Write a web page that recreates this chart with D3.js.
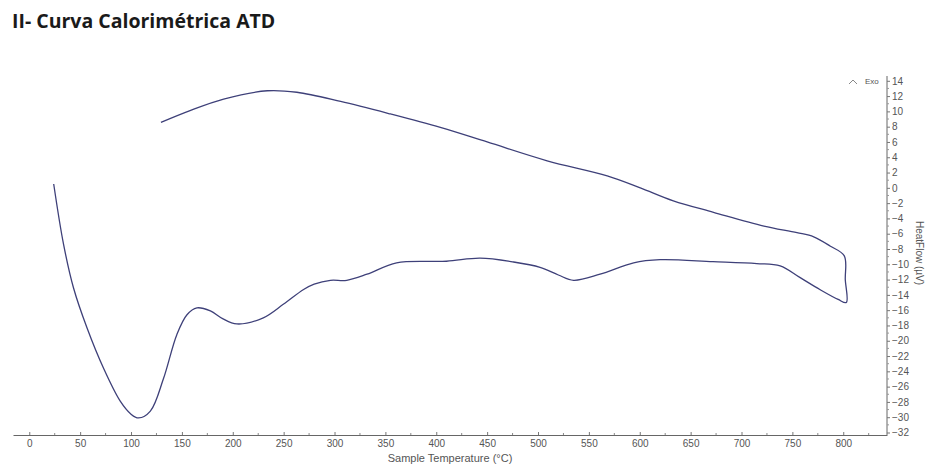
<!DOCTYPE html>
<html>
<head>
<meta charset="utf-8">
<script src="https://cdn.jsdelivr.net/npm/d3@7"></script>
<style>
  body { margin: 0; background: #fff; }
  svg { display: block; }
</style>
</head>
<body>
<svg width="932" height="465"></svg>
<script>
// temperature (°C) and heat flow (µV), in the order the loop was traced
var temps = [24, 33.7, 43.5, 56.7, 73, 89.4, 100, 107.4, 119, 132, 145, 155, 164.8, 178, 190, 204, 230, 250, 269.6, 280, 296, 312, 332, 361, 410, 443, 476, 502, 520, 535, 561, 594, 620, 672, 715, 738, 757.7, 777, 795, 803,
             802, 801,
             787, 771, 754.5, 722, 672.5, 633, 600.5, 568, 509, 450, 404, 355, 306, 263, 234, 191, 158, 129.4];
var heatFlow = [0.5, -7.4, -13.1, -18.3, -23.6, -27.9, -29.6, -30.1, -29.2, -24.9, -19.2, -16.6, -15.7, -16.1, -17.1, -17.8, -17.0, -15.2, -13.3, -12.6, -12.1, -12.1, -11.3, -9.8, -9.6, -9.2, -9.7, -10.4, -11.4, -12.1, -11.3, -9.8, -9.4, -9.65, -9.9, -10.2, -11.75, -13.3, -14.6, -15.0,
                -12, -8.9,
                -7.6, -6.4, -5.86, -5.0, -3.2, -1.7, 0.0, 1.57, 3.54, 6.0, 7.9, 9.66, 11.3, 12.5, 12.7, 11.6, 10.1, 8.56];
var xTickLabels = [0, 50, 100, 150, 200, 250, 300, 350, 400, 450, 500, 550, 600, 650, 700, 750, 800];
var yTickLabels = [14, 12, 10, 8, 6, 4, 2, 0, -2, -4, -6, -8, -10, -12, -14, -16, -18, -20, -22, -24, -26, -28, -30, -32];

var svg = d3.select("svg");

var x = d3.scaleLinear().domain([-16, 843]).range([13, 887]);
var y = d3.scaleLinear().domain([-32, 14]).range([432.5, 80.8]);

var grey = "#555";

// title
svg.append("text")
    .attr("x", 12).attr("y", 28)
    .style("font", "bold 19.5px 'Open Sans', sans-serif")
    .style("fill", "#1a1a1a")
    .text("II- Curva Calorimétrica ATD");

// x axis
var xAxis = d3.axisBottom(x)
    .tickValues(xTickLabels)
    .tickFormat(d3.format("d"))
    .tickSizeInner(-3)
    .tickSizeOuter(0)
    .tickPadding(5);

var gx = svg.append("g").attr("transform", "translate(0,435)").call(xAxis);
gx.select(".domain").attr("stroke", "#666");
gx.selectAll(".tick line").attr("stroke", "#777");
gx.selectAll("text").style("font", "10px 'Liberation Sans', Arial, sans-serif").style("fill", grey);

// minor x ticks every 25
svg.append("g").selectAll("line")
    .data(d3.range(25, 850, 50))
    .enter().append("line")
    .attr("x1", function(d) { return x(d); }).attr("x2", function(d) { return x(d); })
    .attr("y1", 435).attr("y2", 433)
    .attr("stroke", "#888");

// y axis on the right
svg.append("line")
    .attr("x1", 887).attr("x2", 887)
    .attr("y1", 76).attr("y2", 435)
    .attr("stroke", "#666");

var yAxis = d3.axisRight(y)
    .tickValues(yTickLabels)
    .tickSizeInner(3)
    .tickSizeOuter(0)
    .tickPadding(2);

var gy = svg.append("g").attr("transform", "translate(887,0)").call(yAxis);
gy.select(".domain").remove();
gy.selectAll(".tick line").attr("stroke", "#777");
gy.selectAll("text").style("font", "10px 'Liberation Sans', Arial, sans-serif").style("fill", grey);

// minor y ticks
svg.append("g").selectAll("line")
    .data(d3.range(-31, 14, 2))
    .enter().append("line")
    .attr("x1", 887).attr("x2", 889)
    .attr("y1", function(d) { return y(d); }).attr("y2", function(d) { return y(d); })
    .attr("stroke", "#999");

// axis titles
svg.append("text")
    .attr("x", 450).attr("y", 462)
    .attr("text-anchor", "middle")
    .style("font", "11px 'Liberation Sans', Arial, sans-serif")
    .style("fill", grey)
    .text("Sample Temperature (°C)");

svg.append("text")
    .attr("transform", "translate(916,253) rotate(90)")
    .attr("text-anchor", "middle")
    .style("font", "10px 'Liberation Sans', Arial, sans-serif")
    .style("fill", grey)
    .text("HeatFlow (µV)");

// exo marker
svg.append("path")
    .attr("d", "M849,84 L853,80 L857,84")
    .attr("fill", "none")
    .attr("stroke", "#888");
svg.append("text")
    .attr("x", 865).attr("y", 84)
    .style("font", "8px 'Liberation Sans', Arial, sans-serif")
    .style("fill", grey)
    .text("Exo");

// curve
var pts = temps.map(function(t, i) { return [t, heatFlow[i]]; });

var line = d3.line()
    .x(function(d) { return x(d[0]); })
    .y(function(d) { return y(d[1]); })
    .curve(d3.curveCatmullRom.alpha(0.5));

svg.append("path")
    .datum(pts)
    .attr("d", line)
    .attr("fill", "none")
    .attr("stroke", "#3e4079")
    .attr("stroke-width", 1.3);
</script>
</body>
</html>
